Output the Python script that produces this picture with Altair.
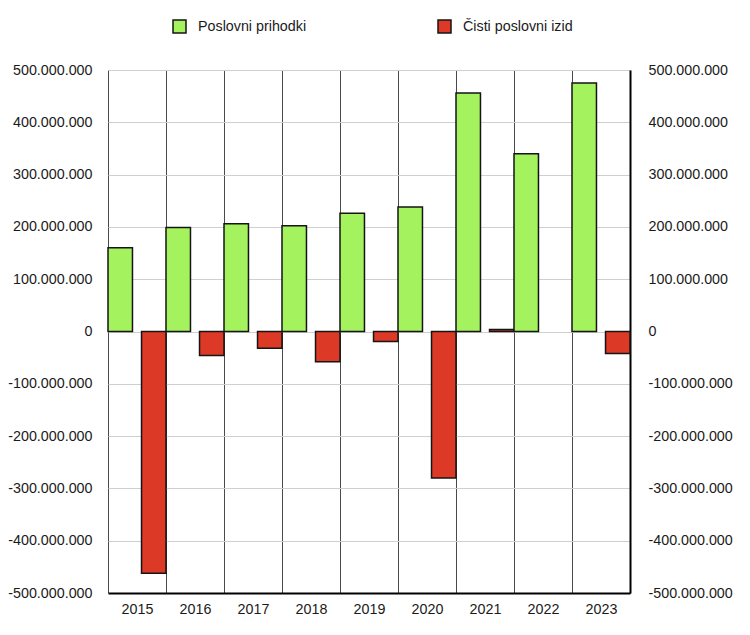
import altair as alt
import pandas as pd

years = ["2015", "2016", "2017", "2018", "2019", "2020", "2021", "2022", "2023"]
prihodki = [160e6, 199e6, 206e6, 202e6, 226e6, 238e6, 456e6, 340e6, 475e6]
izid = [-462e6, -46e6, -32e6, -58e6, -19e6, -280e6, 4e6, None, -42e6]
series_names = ["Poslovni prihodki", "Čisti poslovni izid"]
colors = ["#a3f25e", "#dc3a26"]
tick_values = [-500e6, -400e6, -300e6, -200e6, -100e6, 0, 100e6, 200e6, 300e6, 400e6, 500e6]

rows = []
for yr, a, b in zip(years, prihodki, izid):
    rows.append({"year": yr, "series": series_names[0], "value": a})
    if b is not None:
        rows.append({"year": yr, "series": series_names[1], "value": b})
df = pd.DataFrame(rows)

FONT = "Liberation Sans"
FS = 14.3
TXT = "#1a1a1a"
label_expr = "replace(replace(format(datum.value, ','), regexp(',', 'g'), '.'), '\u2212', '-')"

y_scale = alt.Scale(domain=[-500e6, 500e6], nice=False, zero=False)

x_enc = alt.X(
    "year:N", sort=years,
    scale=alt.Scale(paddingInner=0, paddingOuter=0),
    axis=alt.Axis(title=None, labelAngle=0, tickBand="extent", grid=True,
                  gridColor="#4a4a4a", gridWidth=1, ticks=False, domain=True,
                  domainColor="#000000", domainWidth=2, labelFont=FONT,
                  labelFontSize=FS, labelColor=TXT, labelPadding=9),
)
xoff = alt.XOffset("series:N", sort=series_names,
                   scale=alt.Scale(domain=series_names, paddingInner=0.27, paddingOuter=0))

bars = alt.Chart(df).mark_bar(stroke="#151515", strokeWidth=1.5).encode(
    x=x_enc,
    xOffset=xoff,
    y=alt.Y("value:Q", scale=y_scale,
            axis=alt.Axis(orient="left", title=None, values=tick_values, grid=True,
                          gridColor="#cfcfcf", gridWidth=1, ticks=False, domain=False,
                          labelExpr=label_expr, labelPadding=16, labelFont=FONT,
                          labelFontSize=FS, labelColor=TXT)),
    color=alt.Color("series:N", sort=series_names,
                    scale=alt.Scale(domain=series_names, range=colors),
                    legend=alt.Legend(title=None, orient="none", legendX=64, legendY=-51,
                                      direction="horizontal", columnPadding=128,
                                      symbolType="square", symbolSize=169,
                                      symbolStrokeColor="#151515", symbolStrokeWidth=1.5,
                                      symbolOpacity=1, labelFont=FONT, labelFontSize=FS,
                                      labelColor=TXT, labelOffset=11, padding=0)),
)

right = alt.Chart(df).mark_bar(opacity=0).encode(
    x=x_enc,
    xOffset=xoff,
    y=alt.Y("value:Q", scale=y_scale,
            axis=alt.Axis(orient="right", title=None, values=tick_values, grid=False,
                          ticks=False, domain=True, domainColor="#000000", domainWidth=2,
                          labelExpr=label_expr, labelPadding=18, labelFont=FONT,
                          labelFontSize=FS, labelColor=TXT, labelAlign="left")),
)

chart = alt.layer(bars, right).resolve_axis(y="independent").properties(
    width=522, height=523,
    autosize=alt.AutoSizeParams(type="none"),
    padding={"left": 100, "top": 62, "right": 110, "bottom": 30},
    background="white",
).configure_view(stroke=None)

chart.save("out.html", embed_options={"renderer": "svg", "actions": False})
